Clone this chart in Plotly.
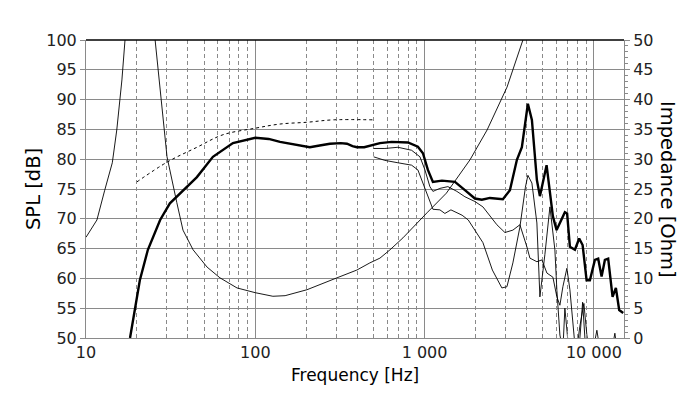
import plotly.graph_objects as go

# ---------------- data ----------------
spl_freq = [18.2, 19.5, 20.8, 23.2, 27.4, 31.3, 34.5, 37.4, 45.2, 56.2, 73.8, 100, 120, 140, 170,
            210, 240, 276, 320, 348, 375, 399, 440, 476, 545, 639, 797, 913, 978, 1046, 1120,
            1266, 1511, 1731, 1983, 2181, 2432, 2901, 3192, 3511, 3756, 4076, 4305, 4607, 4800,
            5256, 5728, 6025, 6743, 6950, 7218, 7726, 8191, 8580, 9058, 9474, 10140, 10605,
            11107, 11617, 12150, 12898, 13490, 14110, 14900]
spl_db = [50.0, 55.2, 59.7, 64.8, 69.8, 72.6, 73.8, 74.8, 77.0, 80.4, 82.7, 83.6, 83.4, 82.9, 82.5,
          82.0, 82.3, 82.6, 82.7, 82.6, 82.2, 82.0, 82.0, 82.3, 82.7, 82.9, 82.8, 82.1, 81.0, 78.2, 76.2,
          76.4, 76.2, 74.8, 73.4, 73.2, 73.5, 73.3, 74.8, 79.9, 82.0, 89.3, 86.6, 76.5, 73.8,
          79.0, 70.4, 68.1, 71.1, 70.9, 65.3, 64.8, 66.7, 65.6, 59.7, 59.7, 63.1, 63.3,
          60.3, 63.1, 63.3, 56.9, 58.4, 54.7, 54.2]

off1_freq = [500, 583, 696, 838, 939, 1005, 1075, 1120, 1232, 1373, 1552, 1731, 1983, 2211, 2674,
             2982, 3324, 3656, 4021, 4190, 4607, 4932, 5279, 5728, 6047, 6300, 6561, 6928, 7218,
             7518, 7831, 8268, 8730, 9092, 9601, 10418, 11001, 12434, 13304, 13865, 15000]
off1_db = [81.8, 81.8, 82.0, 81.5, 80.4, 78.2, 75.4, 74.6, 75.1, 75.4, 74.6, 73.7, 72.9, 72.0, 69.0,
           67.7, 68.1, 69.0, 65.3, 63.4, 62.8, 63.1, 60.9, 60.2, 56.9, 55.5, 58.6, 61.7, 58.1,
           51.4, 47.0, 52.0, 55.8, 50.5, 46.0, 51.3, 47.0, 46.0, 50.8, 47.0, 46.0]

off2_freq = [500, 583, 696, 838, 913, 978, 1075, 1120, 1232, 1318, 1431, 1666, 1812, 1983, 2211,
             2515, 2862, 3065, 3324, 3656, 3941, 4076, 4305, 4607, 4800, 5137, 5500, 5885, 6047,
             6300, 6561, 6743, 7000, 7518, 8268, 8580, 8900, 9300, 12000, 15000]
off2_db = [80.4, 79.8, 79.4, 79.0, 78.2, 76.0, 73.2, 71.6, 71.5, 70.9, 71.5, 70.6, 69.8, 68.1, 66.0,
           61.4, 58.4, 58.6, 62.6, 68.6, 75.3, 77.3, 76.0, 69.3, 56.9, 64.0, 72.0, 64.8, 58.0,
           50.5, 48.0, 55.0, 50.0, 47.0, 50.0, 56.0, 49.0, 46.0, 44.0, 45.0]

sim_freq = [20.0, 30.1, 45.2, 64.4, 100, 140, 202, 288, 500]
sim_db = [76.2, 79.5, 82.0, 84.1, 85.2, 85.9, 86.2, 86.6, 86.6]

imp_freq = [10, 11.6, 12.9, 14.3, 15.2, 16.3, 17.0, 18.0, 19.5, 20.5, 21.5, 23.0, 24.5, 25.6, 27.4,
            30.1, 34.4, 37.4, 42.9, 51.9, 61.8, 78, 100, 127, 150, 202, 304, 398, 475, 545, 625,
            745, 1033, 1345, 1855, 2340, 3070, 3810, 4200]
imp_ohm = [16.9, 19.8, 24.8, 29.4, 34.9, 43.3, 50.0, 65.0, 85.0, 90.0, 85.0, 68.0, 56.0, 50.0, 41.6,
           30.4, 22.7, 18.1, 14.8, 11.9, 10.1, 8.4, 7.6, 7.0, 7.1, 8.1, 10.1, 11.4, 12.6, 13.4, 14.8,
           16.8, 21.0, 24.3, 29.9, 34.9, 42.1, 50.0, 55.0]

x_tickvals = [10, 100, 1000, 10000]
x_ticktext = ["10", "100", "1 000", "10 000"]
x_minor = [m * d for d in (10, 100, 1000) for m in range(2, 10)]

# ---------------- figure ----------------
FONT = "DejaVu Sans"
GRID = "#8a8a8a"

fig = go.Figure()
fig.add_trace(go.Scatter(x=imp_freq, y=imp_ohm, yaxis="y2", mode="lines",
                         line=dict(color="black", width=0.9), showlegend=False))
fig.add_trace(go.Scatter(x=sim_freq, y=sim_db, mode="lines",
                         line=dict(color="black", width=1, dash="3px,3px", shape="spline"),
                         showlegend=False))
fig.add_trace(go.Scatter(x=off2_freq, y=off2_db, mode="lines",
                         line=dict(color="black", width=0.9), showlegend=False))
fig.add_trace(go.Scatter(x=off1_freq, y=off1_db, mode="lines",
                         line=dict(color="black", width=0.9), showlegend=False))
fig.add_trace(go.Scatter(x=spl_freq, y=spl_db, mode="lines",
                         line=dict(color="black", width=2.4), showlegend=False))

# the page body adds an 8px offset, so the figure is sized to fit the 700x399 window
fig.update_layout(
    width=692, height=391,
    margin=dict(l=78, r=76, t=32, b=61),
    paper_bgcolor="white", plot_bgcolor="white",
    font=dict(family=FONT, size=16, color="#222222"),
    xaxis=dict(type="log", range=[1, 4.178],
               tickmode="array", tickvals=x_tickvals, ticktext=x_ticktext,
               showgrid=True, gridcolor=GRID, gridwidth=1,
               ticks="inside", ticklen=6, tickcolor=GRID,
               showline=True, linecolor=GRID, linewidth=1,
               tickfont=dict(family=FONT, size=16, color="#222222"),
               minor=dict(tickmode="array", tickvals=x_minor, showgrid=True,
                          gridcolor=GRID, griddash="4px,3px", gridwidth=1,
                          ticks="inside", ticklen=4, tickcolor=GRID),
               zeroline=False, automargin=False),
    yaxis=dict(range=[50, 100], dtick=5, tick0=50,
               showgrid=True, gridcolor=GRID, gridwidth=1,
               ticks="outside", ticklen=5, tickcolor=GRID,
               showline=True, linecolor=GRID, linewidth=1,
               tickfont=dict(family=FONT, size=16, color="#222222"),
               zeroline=False, automargin=False),
    yaxis2=dict(range=[0, 50], dtick=5, tick0=0, overlaying="y", side="right",
                showgrid=False, ticks="outside", ticklen=5, tickcolor=GRID,
                showline=True, linecolor=GRID, linewidth=1,
                minor=dict(dtick=1, ticks="outside", ticklen=3, tickcolor=GRID),
                tickfont=dict(family=FONT, size=16, color="#222222"),
                zeroline=False, automargin=False),
    shapes=[dict(type="line", xref="paper", yref="paper", x0=0, x1=1, y0=1, y1=1,
                 line=dict(color="black", width=1.5))],
    annotations=[
        dict(text="Frequency [Hz]", xref="paper", yref="paper", x=0.5, y=-0.124,
             xanchor="center", yanchor="middle", showarrow=False,
             font=dict(family=FONT, size=17, color="black")),
        dict(text="SPL [dB]", xref="paper", yref="paper", x=-0.0985, y=0.5,
             xanchor="center", yanchor="middle", showarrow=False, textangle=-90,
             font=dict(family=FONT, size=19.5, color="black")),
        dict(text="Impedance [Ohm]", xref="paper", yref="paper", x=1.0818, y=0.5,
             xanchor="center", yanchor="middle", showarrow=False, textangle=90,
             font=dict(family=FONT, size=19.5, color="black")),
    ],
)

fig.write_html("out.html")
